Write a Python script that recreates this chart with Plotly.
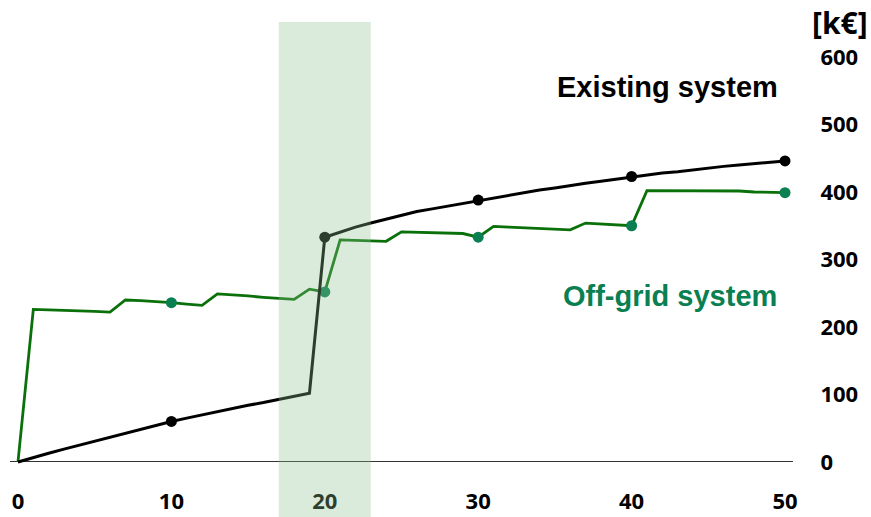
import plotly.graph_objects as go

years = list(range(0, 51))

existing = [0, 7, 13, 19, 25, 31, 37, 43, 49, 55,
            60, 65, 70, 75, 79, 84, 88, 93, 97, 102,
            333, 341, 348, 354, 360, 366, 371, 375, 379, 384,
            388, 392, 396, 399, 403, 406, 410, 413, 416, 419,
            423, 425, 428, 430, 433, 435, 438, 440, 442, 444, 446]

offgrid = [0, 226, 225.5, 225, 224, 223, 222, 240, 239, 238,
           236, 234, 232, 249, 248, 246, 244, 243, 241, 256,
           252, 329, 328, 328, 327, 341, 340.5, 340, 339, 338.5,
           333, 349, 348, 347, 346, 345, 344, 354, 353, 352,
           350, 402, 402, 402, 402, 402, 402, 401.5, 400, 400, 399]

marker_years = [10, 20, 30, 40, 50]
x_ticks = [0, 10, 20, 30, 40, 50]
y_ticks = [0, 100, 200, 300, 400, 500, 600]
band = [17, 23]

BLACK = "#000000"
GREEN_LINE = "#0a700a"
GREEN_MARK = "#0a7f52"

W, H = 871, 517
ML, MR, MT, MB = 10, 78, 22, 37
PW, PH = W - ML - MR, H - MT - MB


def px(xp):
    return (xp - ML) / PW


def py(yp):
    return (H - MB - yp) / PH


fig = go.Figure()

fig.add_trace(go.Scatter(x=years, y=offgrid, mode="lines",
                         line=dict(color=GREEN_LINE, width=2.8), hoverinfo="skip"))
fig.add_trace(go.Scatter(x=marker_years, y=[offgrid[y] for y in marker_years], mode="markers",
                         marker=dict(color=GREEN_MARK, size=11), hoverinfo="skip"))
fig.add_trace(go.Scatter(x=years, y=existing, mode="lines",
                         line=dict(color=BLACK, width=3), hoverinfo="skip"))
fig.add_trace(go.Scatter(x=marker_years, y=[existing[y] for y in marker_years], mode="markers",
                         marker=dict(color=BLACK, size=11), hoverinfo="skip"))

fig.add_shape(type="rect", xref="x", yref="paper", x0=band[0], x1=band[1], y0=-0.2, y1=1.0,
              fillcolor="rgba(143,193,143,0.32)", line=dict(width=0), layer="above")

fig.add_annotation(text="<b>Existing system</b>", xref="paper", yref="paper",
                   x=px(667), y=py(87), xanchor="center", yanchor="middle",
                   showarrow=False, font=dict(family="Liberation Sans", size=29, color="#000000"))
fig.add_annotation(text="<b>Off-grid system</b>", xref="paper", yref="paper",
                   x=px(670), y=py(296), xanchor="center", yanchor="middle",
                   showarrow=False, font=dict(family="Liberation Sans", size=29, color=GREEN_MARK))
fig.add_annotation(text="<b>[k€]</b>", xref="paper", yref="paper",
                   x=px(840), y=py(22), xanchor="center", yanchor="middle",
                   showarrow=False, font=dict(family="Open Sans", size=30, color="#000000"))

fig.update_layout(
    width=W, height=H,
    margin=dict(l=ML, r=MR, t=MT, b=MB, autoexpand=False),
    paper_bgcolor="white", plot_bgcolor="white",
    showlegend=False,
    font=dict(family="Open Sans", color="#000000"),
)
fig.update_xaxes(range=[-0.52, 50.52], tickvals=x_ticks, ticktext=[f"<b>{t}</b>" for t in x_ticks],
                 showgrid=False, zeroline=False, showline=False, automargin=False,
                 ticks="outside", ticklen=2, tickcolor="rgba(0,0,0,0)",
                 tickfont=dict(family="Open Sans", size=22, color="#000000"))
fig.update_yaxes(range=[-26.7, 651.9], side="right", tickvals=y_ticks,
                 ticktext=[f"<b>{t}</b>" for t in y_ticks], automargin=False,
                 showgrid=False, zeroline=True, zerolinecolor="#333333", zerolinewidth=1,
                 showline=False, ticks="outside", ticklen=22, tickcolor="rgba(0,0,0,0)",
                 tickfont=dict(family="Open Sans", size=22, color="#000000"))

fig.write_html("out.html", config={"displayModeBar": False},
               post_script="document.body.style.margin='0';")
